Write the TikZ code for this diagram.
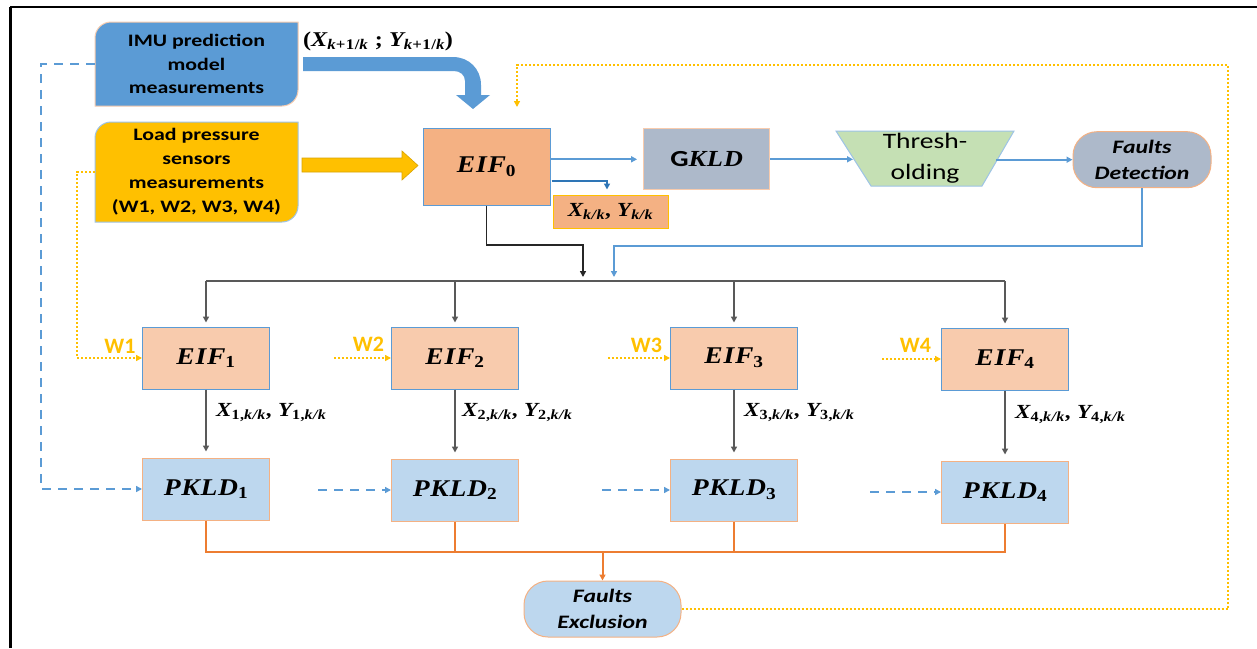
\documentclass[tikz,border=0pt]{standalone}
\usepackage{fix-cm}
\usepackage{fontspec}
\usepackage{amsmath}
\usetikzlibrary{arrows.meta}
\newfontfamily\cfs[FakeStretch=1.25]{Carlito}
\newfontfamily\cfw{Carlito}
\newfontfamily\lsb[FakeStretch=1.15,LetterSpace=3]{Liberation Serif}
\newcommand\bt[1]{\text{\lsb\bfseries\itshape #1}}
\newcommand\bu[1]{\text{\lsb\bfseries #1}}
\definecolor{imublue}{HTML}{5B9BD5}
\definecolor{peach}{HTML}{F4B183}
\definecolor{peachlt}{HTML}{F8CBAD}
\definecolor{eiffill}{HTML}{F8CBAD}
\definecolor{pkfill}{HTML}{BDD7EE}
\definecolor{gkfill}{HTML}{ADB9CA}
\definecolor{trgreen}{HTML}{C5E0B4}
\definecolor{ltblue}{HTML}{9DC3E6}
\definecolor{yel}{HTML}{FFC000}
\definecolor{yeldark}{HTML}{D9A400}
\definecolor{orl}{HTML}{ED7D31}
\definecolor{grayl}{HTML}{595959}
\definecolor{darkblue}{HTML}{2E75B6}
\tikzset{
  box/.style={draw, line width=1pt, inner sep=0pt, align=center},
  eifbox/.style={box, fill=eiffill, draw=imublue, minimum width=127pt, minimum height=62pt,
    font=\fontsize{24}{28}\selectfont},
  pkbox/.style={box, fill=pkfill, draw=peach, minimum width=127pt, minimum height=62pt,
    font=\fontsize{24}{28}\selectfont},
  sublbl/.style={inner sep=0pt, anchor=west, font=\fontsize{20}{23}\selectfont},
  wlbl/.style={inner sep=0pt, text=yel, font=\cfw\bfseries\fontsize{22}{24}\selectfont},
  tip/.style={-{Triangle[length=6pt,width=6pt]}},
  barrow/.style={tip, draw=imublue, line width=1.8pt},
  garrow/.style={tip, draw=grayl, line width=1.8pt},
  glin/.style={draw=grayl, line width=1.8pt},
  olin/.style={draw=orl, line width=2pt},
  oarrow/.style={olin, tip},
  ydot/.style={draw=yel, line width=2pt, dash pattern=on 2pt off 2pt, tip},
  bdash/.style={draw=imublue, line width=2pt, dash pattern=on 9pt off 7pt, tip},
}
\begin{document}
\begin{tikzpicture}[x=1pt,y=-1pt]
\useasboundingbox (0,0) rectangle (1257,648);
\fill[white] (0,0) rectangle (1257,648);
% frame
\draw[line width=3pt] (10,648) -- (10,7);
\draw[line width=2pt] (10,7) -- (1257,7);

% IMU box (round diagonal corners)
\filldraw[fill=imublue, draw=peachlt, line width=1pt]
  (95,106) -- (95,38) .. controls (95,29.2) and (102.2,22) .. (111,22) -- (298,22)
  -- (298,90) .. controls (298,98.8) and (290.8,106) .. (282,106) -- cycle;
\node[inner sep=0pt, minimum width=203pt, minimum height=84pt, align=center,
  font=\cfs\bfseries\fontsize{17.5}{23.5}\selectfont] (imu) at (196.5,64)
  {IMU prediction\\model\\measurements};

% Load box
\filldraw[fill=yel, draw=ltblue, line width=1pt]
  (95,222) -- (95,138) .. controls (95,129.2) and (102.2,122) .. (111,122) -- (298,122)
  -- (298,206) .. controls (298,214.8) and (290.8,222) .. (282,222) -- cycle;
\node[inner sep=0pt, minimum width=203pt, minimum height=100pt, align=center,
  font=\cfs\bfseries\fontsize{17.5}{24}\selectfont] (load) at (196.5,172)
  {Load pressure\\sensors\\measurements\\(W1, W2, W3, W4)};

% big curved IMU arrow
\fill[imublue] (303,57) -- (453,57) .. controls (469,57) and (481,69) .. (481,85)
  -- (481,95) -- (490,95) -- (473,109) -- (456,95) -- (465,95) -- (465,81)
  .. controls (465,75) and (460,71) .. (454,71) -- (303,71) -- cycle;
\node[sublbl, font=\fontsize{21}{24}\selectfont] (lblimu) at (303,41) {$\bu{(}\bt{X}_{\bt{k}\bu{+1/}\bt{k}}\ \bu{;}\ \bt{Y}_{\bt{k}\bu{+1/}\bt{k}}\bu{)}$};

% yellow block arrow
\filldraw[fill=yel, draw=yeldark, line width=0.6pt]
  (302,158) -- (402,158) -- (402,151) -- (418,165.5) -- (402,180) -- (402,172) -- (302,172) -- cycle;

% EIF0
\node[box, fill=peach, draw=imublue, minimum width=127pt, minimum height=77pt,
  font=\fontsize{24}{28}\selectfont] (eif0) at (486.5,166.5) {$\bt{EIF}_{\bu{0}}$};
% Xk/k box
\node[box, fill=peach, draw=yel, minimum width=115pt, minimum height=33pt,
  font=\fontsize{20}{23}\selectfont] (xkk) at (610.5,211.5) {$\bt{X}_{\bt{k/k}}\bu{, }\bt{Y}_{\bt{k/k}}$};
% GKLD
\node[box, fill=gkfill, draw=peachlt, minimum width=126pt, minimum height=61pt,
  font=\fontsize{23}{27}\selectfont] (gkld) at (706.6,159.3) {{\cfs\bfseries G}$\bt{KLD}$};
% Thresholding trapezoid
\filldraw[fill=trgreen, draw=ltblue, line width=1pt]
  (836,131) -- (1014,131) -- (982,186) -- (871,186) -- cycle;
\node[inner sep=0pt, align=center, font=\cfs\fontsize{22}{31}\selectfont] (thr) at (925,158) {Thresh-\\olding};
\coordinate (thrW) at (853,159.3);
\coordinate (thrE) at (996,159.7);
% Faults detection
\node[box, fill=gkfill, draw=peach, rounded corners=24pt, minimum width=138pt, minimum height=56pt,
  font=\cfs\bfseries\itshape\fontsize{19}{26}\selectfont] (fd) at (1142,159.7) {Faults\\Detection};

% EIF row
\node[eifbox] (eif1) at (206,358) {$\bt{EIF}_{\bu{1}}$};
\node[eifbox] (eif2) at (455,358) {$\bt{EIF}_{\bu{2}}$};
\node[eifbox] (eif3) at (734,358) {$\bt{EIF}_{\bu{3}}$};
\node[eifbox] (eif4) at (1005,359) {$\bt{EIF}_{\bu{4}}$};
% PKLD row
\node[pkbox] (pkld1) at (206,489) {$\bt{PKLD}_{\bu{1}}$};
\node[pkbox] (pkld2) at (455,490) {$\bt{PKLD}_{\bu{2}}$};
\node[pkbox] (pkld3) at (734,490) {$\bt{PKLD}_{\bu{3}}$};
\node[pkbox] (pkld4) at (1005,492) {$\bt{PKLD}_{\bu{4}}$};
% Faults exclusion
\node[box, fill=pkfill, draw=peach, rounded corners=24pt, minimum width=157pt, minimum height=56pt,
  font=\cfs\bfseries\itshape\fontsize{19}{26}\selectfont] (fe) at (602.5,609) {Faults\\Exclusion};

% W labels
\node[wlbl] (w1) at (120,346) {W1};
\node[wlbl] (w2) at (368.5,344) {W2};
\node[wlbl] (w3) at (646.5,345) {W3};
\node[wlbl] (w4) at (915.5,345) {W4};

% state labels
\node[sublbl] (x1) at (216,413) {$\bt{X}_{\bu{1,}\bt{k/k}}\bu{, }\bt{Y}_{\bu{1,}\bt{k/k}}$};
\node[sublbl] (x2) at (462,413) {$\bt{X}_{\bu{2,}\bt{k/k}}\bu{, }\bt{Y}_{\bu{2,}\bt{k/k}}$};
\node[sublbl] (x3) at (744,413) {$\bt{X}_{\bu{3,}\bt{k/k}}\bu{, }\bt{Y}_{\bu{3,}\bt{k/k}}$};
\node[sublbl] (x4) at (1015,415) {$\bt{X}_{\bu{4,}\bt{k/k}}\bu{, }\bt{Y}_{\bu{4,}\bt{k/k}}$};

% --- connectors top row
\draw[barrow, shorten >=6pt] (eif0.east |- gkld.west) -- (gkld.west);
\draw[barrow] (gkld.east) -- (thrW);
\draw[barrow] (thrE) -- (fd.west);
\draw[tip, draw=darkblue, line width=2.6pt, shorten >=5pt] ([yshift=-14.5pt,xshift=1pt]eif0.east) -| ([xshift=-3.5pt]xkk.north);

% EIF0 down to bus
\coordinate (j1) at (583,245);
\coordinate (busA) at (583,277);
\draw[garrow, draw=black!85] (eif0.south) |- (j1) -- (busA);
% FD down to bus
\coordinate (fdj) at (614,246);
\coordinate (busB) at (614,277);
\draw[barrow] (fd.south) |- (fdj) -- (busB);

% gray bus
\coordinate (busL) at (206,281);
\coordinate (busR) at (1005,281);
\draw[glin] (busL) -- (busR);
\foreach \i in {1,2,3,4}{
  \draw[garrow, shorten >=4pt] (eif\i.north |- busL) -- (eif\i.north);
  \draw[garrow, shorten >=6pt] (eif\i.south) -- (pkld\i.north);
}

% yellow dotted W inputs
\coordinate (wbend) at (77,172);
\draw[ydot] (load.west) -- (wbend) |- (eif1.west);
\coordinate (w2s) at (334,358);
\coordinate (w3s) at (608,358);
\coordinate (w4s) at (882,359);
\draw[ydot] (w2s) -- (eif2.west);
\draw[ydot] (w3s) -- (eif3.west);
\draw[ydot] (w4s) -- (eif4.west);

% blue dashed to PKLD
\coordinate (dbend) at (41,64);
\draw[bdash] (imu.west) -- (dbend) |- (pkld1.west);
\coordinate (d2) at (318,490);
\coordinate (d3) at (602,490);
\coordinate (d4) at (870,492);
\draw[bdash] (d2) -- (pkld2.west);
\draw[bdash] (d3) -- (pkld3.west);
\draw[bdash] (d4) -- (pkld4.west);

% orange collection
\coordinate (obL) at (206,552);
\coordinate (obR) at (1005,552);
\coordinate (obM) at (602.5,552);
\draw[olin] (pkld1.south) |- (obR) -- (pkld4.south);
\draw[olin] (pkld2.south) -- (pkld2.south |- obL);
\draw[olin] (pkld3.south) -- (pkld3.south |- obL);
\draw[oarrow] (obM) -- (fe.north);

% feedback loop
\coordinate (fb1) at (1228,609);
\coordinate (fb2) at (1228,65);
\coordinate (fb3) at (517,65);
\coordinate (fb4) at (517,107);
\draw[ydot] (fe.east) -- (fb1) -- (fb2) -- (fb3) -- (fb4);
\end{tikzpicture}
\end{document}
